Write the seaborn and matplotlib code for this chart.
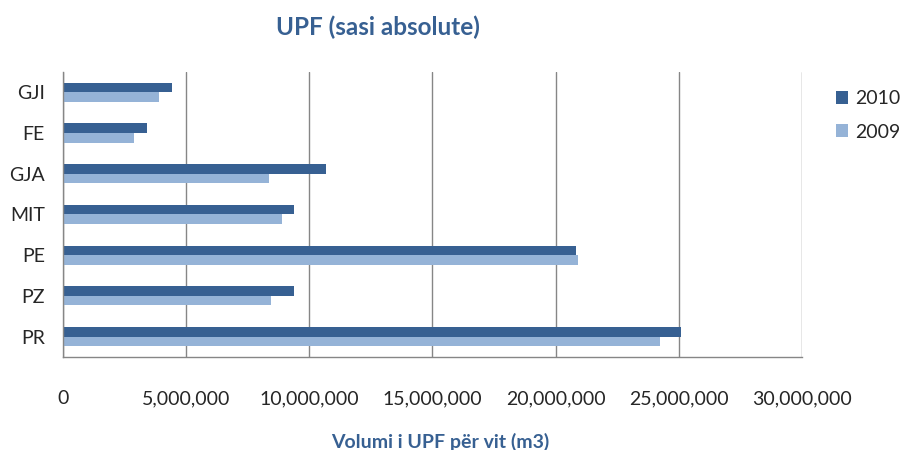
import pandas as pd
import matplotlib.pyplot as plt
import matplotlib.ticker as mticker
import seaborn as sns

# data
categories = ["GJI", "FE", "GJA", "MIT", "PE", "PZ", "PR"]
vol_2010 = [4420000, 3420000, 10690000, 9370000, 20840000, 9370000, 25110000]
vol_2009 = [3890000, 2890000, 8360000, 8900000, 20910000, 8430000, 24240000]
years = ["2010", "2009"]
xticks = [0, 5000000, 10000000, 15000000, 20000000, 25000000, 30000000]

df = pd.DataFrame({
    "cat": categories * 2,
    "vol": vol_2010 + vol_2009,
    "year": [years[0]] * len(categories) + [years[1]] * len(categories),
})

sns.set_style("white")
plt.rcParams["font.family"] = ["Lato", "DejaVu Sans"]

blue = "#376092"
fig = plt.figure(figsize=(9.04, 4.5), dpi=100)
ax = fig.add_axes([0.0697, 0.207, 0.8173, 0.633])

sns.barplot(
    data=df, x="vol", y="cat", hue="year", order=categories,
    hue_order=years, palette=["#376092", "#95B3D7"], width=0.47,
    saturation=1, orient="h", ax=ax, legend=True, linewidth=0,
)

ax.set_xlim(0, 30000000)
ax.set_ylim(6.5, -0.5)
ax.set_xticks(xticks)
ax.xaxis.set_major_formatter(mticker.StrMethodFormatter("{x:,.0f}"))
ax.grid(axis="x", color="#868686", linewidth=1)
ax.set_axisbelow(True)

for s in ["top", "right"]:
    ax.spines[s].set_visible(False)
for s in ["left", "bottom"]:
    ax.spines[s].set_color("#868686")
    ax.spines[s].set_linewidth(1)

ax.tick_params(axis="x", length=0, pad=24, labelsize=14)
ax.tick_params(axis="y", which="major", length=0, pad=13, labelsize=14)
ax.set_yticks([i - 0.5 for i in range(len(categories) + 1)], minor=True)
ax.tick_params(axis="y", which="minor", length=5, color="#868686", direction="out")

ax.set_ylabel("")
ax.set_xlabel("Volumi i UPF për vit (m3)", fontsize=14, fontweight="bold",
              color=blue)
ax.xaxis.set_label_coords(0.511, -0.3)
ax.xaxis.label.set_va("center")
fig.suptitle("UPF (sasi absolute)", x=0.418, y=0.94, fontsize=17.5,
             fontweight="bold", color=blue, va="center")

leg = ax.legend(loc="upper left", bbox_to_anchor=(0.925, 0.8),
                bbox_transform=fig.transFigure, frameon=False, fontsize=14,
                handlelength=0.6, handleheight=0.65, labelspacing=0.85,
                handletextpad=0.35, borderpad=0, borderaxespad=0)

plt.savefig("out.png", dpi=100)
